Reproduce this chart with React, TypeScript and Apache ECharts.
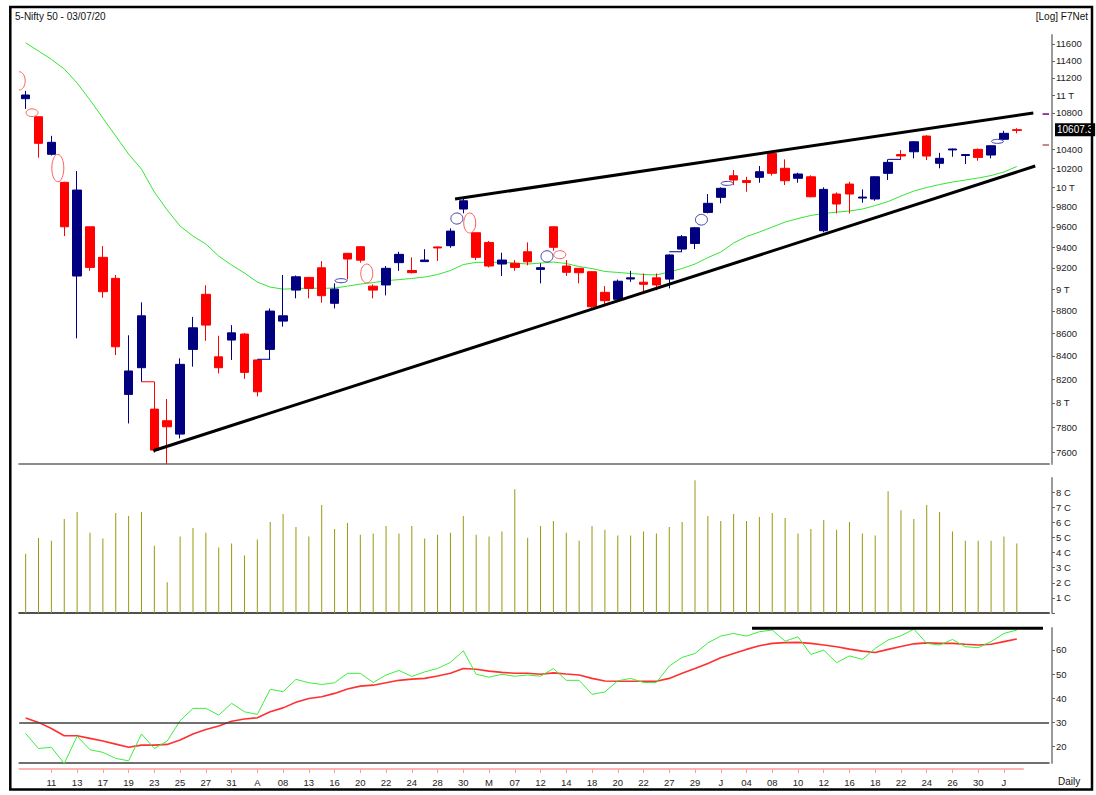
import React, { useEffect, useRef } from "react";
import * as echarts from "echarts";

// ---------- data ----------
const dates = [
  "2020-03-06","2020-03-09","2020-03-11","2020-03-12","2020-03-13","2020-03-16","2020-03-17","2020-03-18","2020-03-19","2020-03-20",
  "2020-03-23","2020-03-24","2020-03-25","2020-03-26","2020-03-27","2020-03-30","2020-03-31","2020-04-01","2020-04-03","2020-04-07",
  "2020-04-08","2020-04-09","2020-04-13","2020-04-15","2020-04-16","2020-04-17","2020-04-20","2020-04-21","2020-04-22","2020-04-23",
  "2020-04-24","2020-04-27","2020-04-28","2020-04-29","2020-04-30","2020-05-04","2020-05-05","2020-05-06","2020-05-07","2020-05-11",
  "2020-05-12","2020-05-13","2020-05-14","2020-05-15","2020-05-18","2020-05-19","2020-05-20","2020-05-21","2020-05-22","2020-05-26",
  "2020-05-27","2020-05-28","2020-05-29","2020-06-01","2020-06-02","2020-06-03","2020-06-04","2020-06-05","2020-06-08","2020-06-09",
  "2020-06-10","2020-06-11","2020-06-12","2020-06-15","2020-06-16","2020-06-17","2020-06-18","2020-06-19","2020-06-22","2020-06-23",
  "2020-06-24","2020-06-25","2020-06-26","2020-06-29","2020-06-30","2020-07-01","2020-07-02","2020-07-03",
];

// labels shown under every second bar, starting with bar 2
const xTickLabels = [
  "11","13","17","19","23","25","27","31","A","08","13","16","20","22","24","28","30","M","07",
  "12","14","18","20","22","27","29","J","04","08","10","12","16","18","22","24","26","30","J",
];

const opens = [
  10961,10758,10348,10052,9123,9600,9301,9101,8071,8297,
  7949,7854,7746,8456,8952,8391,8538,8591,8364,8456,
  8707,8991,9110,9201,8869,9340,9404,9028,9039,9250,
  9175,9260,9402,9414,9778,9541,9446,9237,9244,9355,
  9186,9600,9218,9196,9164,8970,8906,9095,9065,9106,
  9094,9381,9436,9744,9897,10121,10070,10104,10358,10199,
  10094,10110,9561,9931,10034,9890,9880,10146,10345,10375,
  10545,10252,10395,10335,10401,10340,10510,10615,
];
const closes = [
  11003,10466,10477,9600,9972,9205,8976,8479,8269,8755,
  7619,7805,8326,8647,8671,8297,8602,8257,8093,8798,
  8755,9116,9007,8939,9000,9285,9274,8991,9196,9330,
  9155,9275,9392,9557,9862,9301,9218,9275,9205,9258,
  9202,9398,9158,9154,8837,8893,9074,9106,9045,9039,
  9324,9502,9590,9836,9990,10076,10050,10163,10146,10069,
  10139,9903,9979,9829,9931,9900,10110,10262,10330,10483,
  10329,10305,10405,10345,10315,10440,10575,10607.3,
];
const lows = [
  10846,10311,10335,9508,8553,9173,8920,8407,7832,8177,
  7598,7511,7712,8306,8531,8248,8364,8202,8055,8370,
  8657,8915,8915,8875,8822,9091,9250,8915,8942,9172,
  9147,9258,9266,9394,9735,9275,9205,9124,9172,9225,
  9054,9365,9124,9054,8820,8863,8900,9068,8976,8990,
  9007,9355,9381,9734,9836,10024,9955,10048,10122,10024,
  10048,9897,9545,9734,9734,9842,9862,10076,10294,10305,
  10287,10199,10322,10245,10279,10305,10502,10575,
];
const highs = [
  11050,10760,10548,10058,10170,9602,9410,9133,8580,8878,
  8177,8032,8378,8745,9036,8576,8671,8600,8366,8822,
  9133,9128,9115,9265,9054,9342,9406,9044,9218,9355,
  9301,9380,9404,9584,9885,9541,9459,9346,9275,9446,
  9244,9602,9275,9198,9166,9028,9090,9172,9147,9147,
  9330,9518,9598,9931,10000,10181,10110,10223,10375,10294,
  10152,10125,10000,9948,10058,9979,10115,10294,10394,10490,
  10556,10364,10410,10350,10410,10445,10603,10631,
];

const maValues = [
  11614,11515,11417,11303,11140,10946,10744,10545,10350,10190,
  9951,9768,9607,9508,9430,9313,9227,9151,9066,9019,
  9000,9005,9010,9007,9010,9028,9047,9061,9079,9089,
  9100,9113,9137,9175,9232,9253,9253,9253,9246,9237,
  9246,9256,9242,9213,9194,9166,9157,9147,9138,9133,
  9161,9194,9237,9299,9352,9440,9503,9548,9597,9647,
  9682,9713,9733,9747,9758,9778,9813,9854,9910,9962,
  9998,10029,10055,10076,10097,10123,10160,10218,
];

// volume in crore units ("C")
const volumes = [
  3.93,4.97,4.79,6.23,6.69,5.32,4.93,6.62,6.42,6.69,
  4.46,2.03,5.06,5.63,5.32,4.33,4.60,3.80,4.86,6.03,
  6.56,5.70,5.06,7.15,5.56,5.96,5.19,5.26,5.76,5.26,
  5.76,4.93,5.19,5.32,6.42,5.19,5.06,5.39,8.19,4.99,
  5.76,6.09,5.32,4.79,5.76,5.52,5.13,5.13,5.39,5.26,
  5.70,6.03,8.79,6.42,6.09,6.56,6.09,6.36,6.62,6.29,
  5.26,5.56,6.16,5.52,6.03,5.26,5.13,8.06,6.80,6.23,
  7.15,6.69,5.39,4.79,4.79,4.79,5.06,4.60,
];

const rsiValues = [
  25.4,19.2,19.7,13.0,24.3,18.7,17.6,15.1,14.1,25.2,
  19.2,22.3,30.7,35.8,35.8,33.0,37.9,34.4,33.3,43.7,
  42.7,47.8,46.4,45.7,46.4,50.3,50.3,46.5,49.6,51.5,
  49.0,50.9,52.3,54.8,59.6,49.9,48.7,49.9,49.1,49.6,
  49.1,52.3,47.4,47.4,41.6,42.6,47.2,48.2,46.5,46.5,
  53.3,56.9,58.5,62.9,65.7,66.8,65.7,67.5,68.2,63.6,
  65.4,58.1,59.9,54.7,57.5,56.1,60.6,64.1,65.8,68.6,
  62.7,62.0,64.3,61.3,60.9,63.4,66.8,68.2,
];
const rsiAvgValues = [
  31.8,30.0,27.5,24.5,24.5,23.4,22.3,21.0,19.7,20.6,
  20.6,20.9,22.7,25.2,27.1,28.5,30.5,31.4,31.9,34.4,
  36.0,38.3,39.9,40.6,42.0,43.8,45.0,45.4,46.4,47.4,
  47.9,48.2,49.2,50.3,52.3,52.0,51.2,50.7,50.3,50.3,
  49.9,50.5,50.0,49.6,48.2,47.1,47.0,47.0,47.0,47.0,
  48.2,50.3,52.3,54.4,56.7,58.5,60.2,61.7,62.7,63.0,
  63.1,62.7,62.0,61.3,60.3,59.5,58.9,60.2,61.4,62.5,
  62.9,62.7,62.7,62.3,62.0,62.3,63.4,64.5,
];

const priceTicks = [7600,7800,8000,8200,8400,8600,8800,9000,9200,9400,9600,9800,10000,10200,10400,10800,11000,11200,11400,11600];
const volumeTicks = [1,2,3,4,5,6,7,8];
const rsiTicks = [20,30,40,50,60];

// gap markers: [bar before the gap, gap low, gap high, 1 = up gap / 0 = down gap]
const gapMarkers = [
  [-1,11060,11271,0],[0,10760,10846,0],[2,10058,10347,0],[24,9060,9098,1],
  [26,9058,9237,0],[33,9627,9738,1],[34,9538,9738,0],[40,9256,9365,1],
  [41,9288,9365,0],[52,9617,9724,1],[54,10024,10058,1],[75,10466,10509,1],
];
// touching-bars connectors: [bar before, price, 1 = up / 0 = down]
const gapConnectors = [[9,8177,0],[18,8370,1],[50,9355,1],[67,10294,1]];

// drawn trendlines: [bar position, price]
const upperTrend = [[33.36,9880],[78.28,10800]];
const lowerTrend = [[9.92,7614],[78.43,10223]];
const rsiResistance = [[56.43,68.9],[79.03,68.9]];
const sideMarks = [[10788,"#800080"],[10448,"#b86060"]];

const priceMin = 7510;
const priceMax = 11708;
const volMax = 8.94;
const rsiMin = 13.2;
const rsiMax = 69.05;

const FONT = '"Liberation Sans", Arial, sans-serif';
const LEFT = 19.2;
const RIGHT = 47;
const UP = "#000080";
const DOWN = "#ff0000";

export default function App() {
  const ref = useRef<HTMLDivElement>(null);
  useEffect(() => {
    const chart = echarts.init(ref.current!, null, { renderer: "svg" });
    const ln = Math.log;
    const cats = [...dates, "", " "];
    const nSlots = cats.length;

    const priceLabel = (v: number) => {
      const p = Math.round(Math.exp(v));
      return p % 1000 === 0 ? `${p / 1000} T` : `${p}`;
    };
    const labelInterval = (idx: number) => idx >= 2 && idx % 2 === 0;

    const hiddenCat = (gridIndex: number, lineColor: string, lineWidth: number) => ({
      type: "category", gridIndex, data: cats, boundaryGap: true,
      axisLine: { show: true, onZero: false, lineStyle: { color: lineColor, width: lineWidth } },
      axisTick: { show: false }, axisLabel: { show: false }, splitLine: { show: false },
    });
    const hiddenVal = (gridIndex: number) => ({
      type: "value", gridIndex, min: -0.5, max: nSlots - 0.5, show: false,
      axisLine: { show: false }, splitLine: { show: false },
    });

    const rightAxisCommon = {
      position: "right", offset: 3,
      axisLine: { show: true, onZero: false, lineStyle: { color: "#9a9a9a", width: 2 } },
      splitLine: { show: false },
    };

    const option: any = {
      animation: false,
      backgroundColor: "#ffffff",
      textStyle: { fontFamily: FONT },
      grid: [
        { left: LEFT, right: RIGHT, top: 35, height: 429 },
        { left: LEFT, right: RIGHT, top: 478, height: 135 },
        { left: LEFT, right: RIGHT, top: 628, height: 135 },
        { left: LEFT, width: 12.8725 * dates.length, top: 763, height: 6 },
      ],
      xAxis: [
        hiddenCat(0, "#8c8c8c", 2),
        hiddenVal(0),
        hiddenCat(1, "#505050", 2),
        hiddenCat(2, "#404040", 1.5),
        hiddenVal(2),
        {
          type: "category", gridIndex: 3, data: dates, boundaryGap: true, position: "bottom",
          axisLine: { show: true, lineStyle: { color: "#ff9c9c", width: 1.5 } },
          axisTick: { show: true, alignWithLabel: true, interval: labelInterval, length: 4, lineStyle: { color: "#ff9c9c" } },
          axisLabel: {
            interval: labelInterval, margin: 8, fontSize: 9.5, color: "#222", fontFamily: FONT,
            formatter: (_v: string, idx: number) => xTickLabels[(idx - 2) / 2] ?? "",
          },
          splitLine: { show: false },
        },
      ],
      yAxis: [
        {
          type: "value", gridIndex: 0, min: ln(priceMin), max: ln(priceMax), ...rightAxisCommon,
          axisTick: { show: true, length: 3, customValues: priceTicks.map(ln), lineStyle: { color: "#666" } },
          axisLabel: { customValues: priceTicks.map(ln), formatter: priceLabel, fontSize: 9.5, color: "#222", margin: 4, fontFamily: FONT },
        },
        {
          type: "value", gridIndex: 1, min: 0, max: volMax, ...rightAxisCommon,
          axisTick: { show: true, length: 3, customValues: [0, ...volumeTicks], lineStyle: { color: "#666" } },
          axisLabel: { customValues: volumeTicks, formatter: (v: number) => `${v} C`, fontSize: 9.5, color: "#222", margin: 4, fontFamily: FONT },
        },
        {
          type: "value", gridIndex: 2, min: rsiMin, max: rsiMax, ...rightAxisCommon,
          axisTick: { show: true, length: 3, customValues: rsiTicks, lineStyle: { color: "#666" } },
          axisLabel: { customValues: rsiTicks, fontSize: 9.5, color: "#222", margin: 4, fontFamily: FONT },
        },
        { type: "value", gridIndex: 3, show: false, splitLine: { show: false } },
      ],
      series: [
        {
          name: "MA", type: "line", xAxisIndex: 0, yAxisIndex: 0, z: 1,
          data: maValues.map(ln), symbol: "none", showSymbol: false,
          lineStyle: { color: "#33e633", width: 1 },
        },
        {
          name: "Nifty 50", type: "candlestick", xAxisIndex: 0, yAxisIndex: 0, z: 2, barWidth: 9,
          data: dates.map((_, i) => [ln(opens[i]), ln(closes[i]), ln(lows[i]), ln(highs[i])]),
          itemStyle: { color: UP, color0: DOWN, borderColor: UP, borderColor0: DOWN, borderWidth: 1 },
          markLine: {
            silent: true, symbol: ["none", "none"],
            data: [{ yAxis: ln(closes[closes.length - 1]) }],
            lineStyle: { color: "rgba(0,0,0,0)", width: 1 },
            label: {
              show: true, position: "end", distance: 6,
              formatter: closes[closes.length - 1].toFixed(1),
              color: "#fff", backgroundColor: "#000", padding: [2, 2, 1, 2], fontSize: 10, fontFamily: FONT,
            },
          },
        },
        {
          name: "gaps", type: "custom", xAxisIndex: 1, yAxisIndex: 0, z: 3, clip: true,
          encode: { x: 0, y: [1, 2] },
          data: gapMarkers.map((g) => [g[0] + 0.5, ln(g[1]), ln(g[2]), g[3]]),
          renderItem: (_p: any, api: any) => {
            const a = api.coord([api.value(0), api.value(1)]);
            const b = api.coord([api.value(0), api.value(2)]);
            const ry = Math.max(2, Math.abs(a[1] - b[1]) / 2);
            return {
              type: "ellipse",
              shape: { cx: a[0], cy: (a[1] + b[1]) / 2, rx: 6, ry },
              style: { fill: "none", stroke: api.value(3) === 1 ? "#3c3ca8" : "#ff5c5c", lineWidth: 1 },
            };
          },
        },
        {
          name: "connectors", type: "custom", xAxisIndex: 1, yAxisIndex: 0, z: 3,
          encode: { x: 0, y: 1 },
          data: gapConnectors.map((g) => [g[0], ln(g[1]), g[2]]),
          renderItem: (_p: any, api: any) => {
            const a = api.coord([api.value(0), api.value(1)]);
            const b = api.coord([api.value(0) + 1, api.value(1)]);
            return {
              type: "line",
              shape: { x1: a[0], y1: a[1], x2: b[0], y2: b[1] },
              style: { stroke: api.value(2) === 1 ? UP : DOWN, lineWidth: 1 },
            };
          },
        },
        {
          name: "side marks", type: "custom", xAxisIndex: 1, yAxisIndex: 0, z: 3,
          encode: { x: 0, y: 1 },
          data: sideMarks.map((s, i) => [nSlots - 1, ln(s[0] as number), i]),
          renderItem: (_p: any, api: any) => {
            const a = api.coord([api.value(0), api.value(1)]);
            const b = api.coord([api.value(0) + 0.5, api.value(1)]);
            return {
              type: "line",
              shape: { x1: a[0], y1: a[1], x2: b[0], y2: b[1] },
              style: { stroke: sideMarks[api.value(2)][1], lineWidth: 1.5 },
            };
          },
        },
        {
          name: "upper trend", type: "line", xAxisIndex: 1, yAxisIndex: 0, z: 4,
          data: upperTrend.map((p) => [p[0], ln(p[1])]), symbol: "none",
          lineStyle: { color: "#000", width: 3 },
        },
        {
          name: "lower trend", type: "line", xAxisIndex: 1, yAxisIndex: 0, z: 4,
          data: lowerTrend.map((p) => [p[0], ln(p[1])]), symbol: "none",
          lineStyle: { color: "#000", width: 3 },
        },
        {
          name: "Volume", type: "bar", xAxisIndex: 2, yAxisIndex: 1, barWidth: 1,
          data: volumes, itemStyle: { color: "#999910" },
        },
        {
          name: "RSI", type: "line", xAxisIndex: 3, yAxisIndex: 2, z: 3,
          data: rsiValues, symbol: "none", showSymbol: false,
          lineStyle: { color: "#3cee3c", width: 1 },
        },
        {
          name: "RSI avg", type: "line", xAxisIndex: 3, yAxisIndex: 2, z: 2,
          data: rsiAvgValues, symbol: "none", showSymbol: false,
          lineStyle: { color: "#ff3030", width: 1.6 },
          markLine: {
            silent: true, symbol: ["none", "none"], label: { show: false },
            data: [{ yAxis: 30 }],
            lineStyle: { color: "#404040", width: 1.5, type: "solid" },
          },
        },
        {
          name: "RSI resistance", type: "line", xAxisIndex: 4, yAxisIndex: 2, z: 4, clip: false,
          data: rsiResistance, symbol: "none",
          lineStyle: { color: "#000", width: 3 },
        },
        { name: "axis holder", type: "line", xAxisIndex: 5, yAxisIndex: 3, data: [] },
      ],
      graphic: [
        {
          type: "rect", z: 100, silent: true,
          shape: { x: 10.3, y: 7, width: 1081.7, height: 782.5 },
          style: { fill: "none", stroke: "#000", lineWidth: 2.5 },
        },
        {
          type: "text", left: 15, top: 11,
          style: { text: "5-Nifty 50 - 03/07/20", font: `10px ${FONT}`, fill: "#111" },
        },
        {
          type: "text", right: 8, top: 11,
          style: { text: "[Log] F7Net", font: `10px ${FONT}`, fill: "#111" },
        },
        {
          type: "text", left: 1058, top: 776,
          style: { text: "Daily", font: `10px ${FONT}`, fill: "#111" },
        },
      ],
    };

    chart.setOption(option);
    return () => chart.dispose();
  }, []);

  return (
    <div
      ref={ref}
      style={{ position: "fixed", left: 0, top: 0, width: 1096, height: 795, background: "#fff" }}
    />
  );
}
